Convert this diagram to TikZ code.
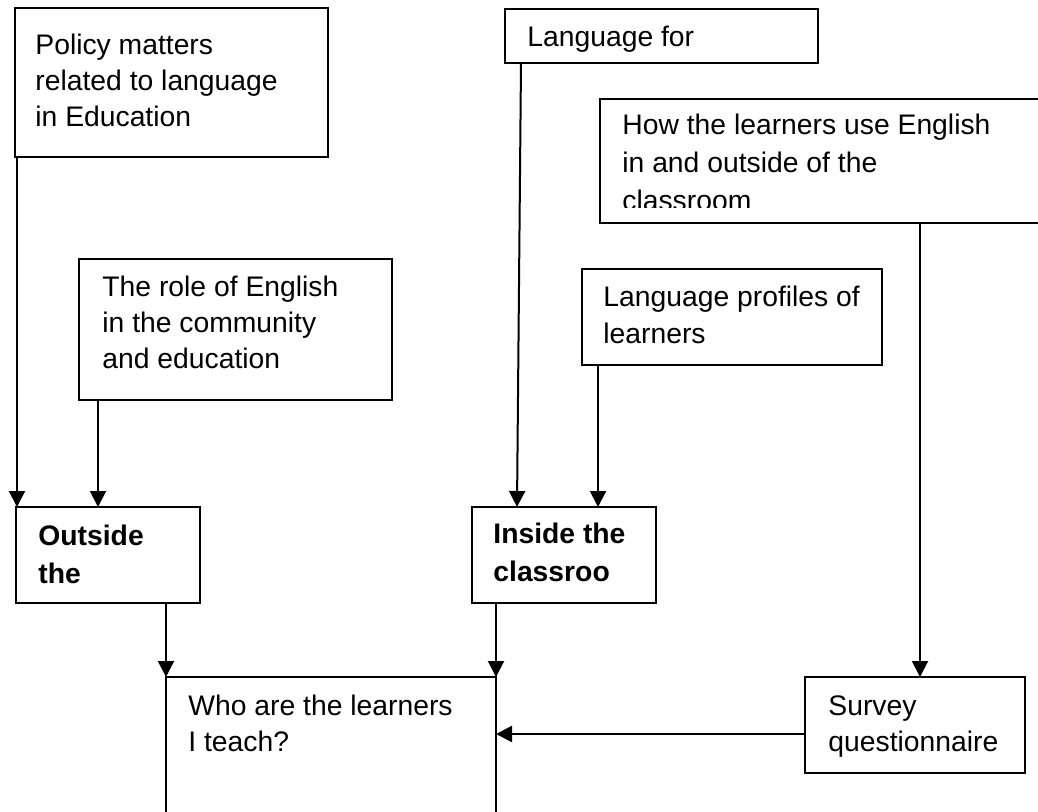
\documentclass[tikz,border=0pt]{standalone}
\usepackage{fontspec}
\setmainfont{Liberation Sans}
\usepackage{tikz}
\usetikzlibrary{arrows.meta,calc}
\tikzset{
  topicbox/.style={draw=black, line width=1pt, outer sep=0pt, inner sep=0pt, anchor=north west},
  askbox/.style={draw=black, line width=0.6pt, outer sep=0pt, inner sep=0pt, anchor=north west},
  boxtext/.style={inner sep=0pt, anchor=base west, font=\fontsize{14.15pt}{18pt}\selectfont},
  edge/.style={-{Triangle[length=8pt, width=8pt]}, line width=1pt, draw=black}
}
\newcommand{\lines}[1]{\parbox[t]{200pt}{\raggedright #1}}

\begin{document}
\begin{tikzpicture}[x=0.5pt, y=-0.5pt]
  \useasboundingbox (0,0) rectangle (1038,812);
  \clip (0,0) rectangle (1038,812);
  % boxes
  \node[topicbox, minimum width=156.5pt, minimum height=74.5pt] (policy) at (15,8) {};
  \node[topicbox, minimum width=156.5pt, minimum height=27pt] (lang) at (505,9) {};
  \node[topicbox, minimum width=230pt, minimum height=62pt] (how) at (600,99) {};
  \node[topicbox, minimum width=156.5pt, minimum height=70.5pt] (role) at (79,259) {};
  \node[topicbox, minimum width=150pt, minimum height=48pt] (profiles) at (582,269) {};
  \node[topicbox, minimum width=92pt, minimum height=48pt] (outside) at (16,507) {};
  \node[topicbox, minimum width=92pt, minimum height=48pt] (inside) at (472,507) {};
  \node[askbox, minimum width=165pt, minimum height=100pt] (who) at (166,677) {};
  \node[topicbox, minimum width=110pt, minimum height=48pt] (survey) at (805,677) {};
  % texts
  \node[boxtext] (policytext) at (35,55) {\lines{Policy matters\\related to language\\in Education}};
  \node[boxtext] (langtext) at (527,47) {\lines{Language for}};
  \begin{scope}
    \clip (600,99) rectangle (1038,208);
    \node[boxtext, font=\fontsize{14.15pt}{19pt}\selectfont] (howtext) at (622,135) {\lines{How the learners use English\\in and outside of the\\classroom}};
  \end{scope}
  \node[boxtext] (roletext) at (102,297) {\lines{The role of English\\in the community\\and education}};
  \node[boxtext] (profilestext) at (603,307) {\lines{Language profiles of\\learners}};
  \node[boxtext, font=\fontsize{14.15pt}{19pt}\selectfont\bfseries] (outsidetext) at (38,545) {\lines{Outside\\the}};
  \node[boxtext, font=\fontsize{14.15pt}{19pt}\selectfont\bfseries] (insidetext) at (493,543) {\lines{Inside the\\classroo}};
  \node[boxtext] (whotext) at (188,715) {\lines{Who are the learners\\I teach?}};
  \node[boxtext] (surveytext) at (828,715) {\lines{Survey\\questionnaire}};
  % connectors
  \draw[edge] ($(policy.south west)+(2,0)$) -- ($(outside.north west)+(1,0)$);
  \draw[edge] ($(role.south west)+(19,0)$) -- ($(outside.north west)+(82,0)$);
  \draw[edge] ($(lang.south west)+(16,0)$) -- ($(inside.north west)+(45,0)$);
  \draw[edge] ($(profiles.south west)+(16,0)$) -- ($(inside.north west)+(126,0)$);
  \draw[edge] ($(outside.south west)+(150,0)$) -- (who.north west);
  \draw[edge] ($(inside.south west)+(24,0)$) -- (who.north east);
  \draw[edge] ($(how.south west)+(320,0)$) -- ($(survey.north west)+(115,0)$);
  \draw[edge, line width=1.2pt] ($(survey.north west)+(0,57)$) -- ($(who.north east)+(0,57)$);
\end{tikzpicture}
\end{document}
